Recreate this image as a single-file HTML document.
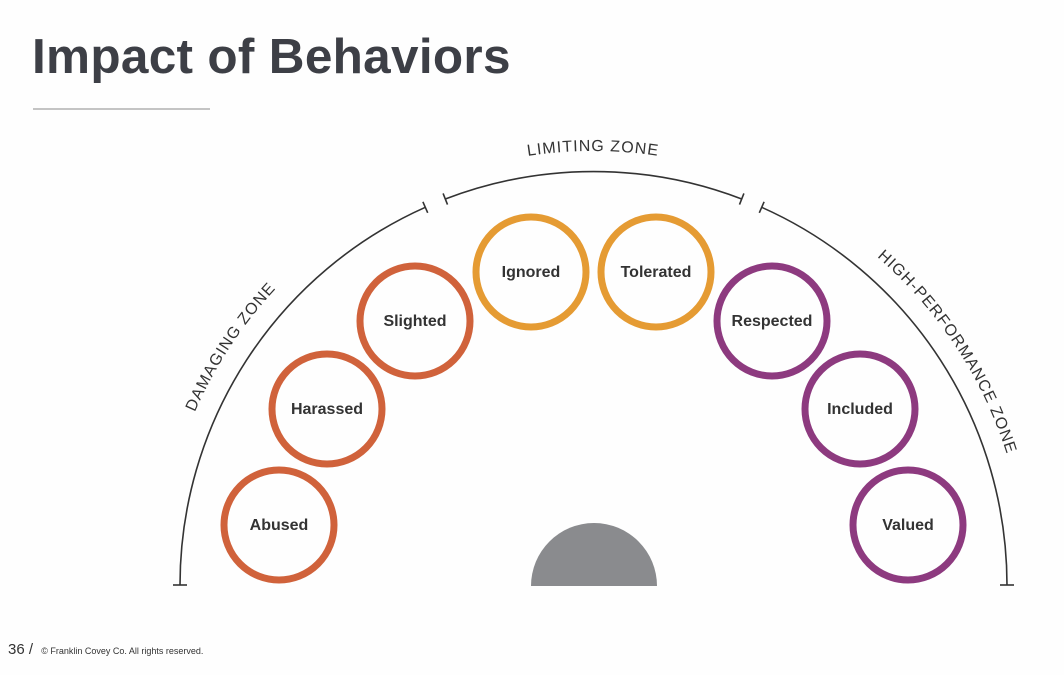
<!DOCTYPE html>
<html><head><meta charset="utf-8"><style>
html,body{margin:0;padding:0;background:#fefefe;}
body{width:1064px;height:675px;overflow:hidden;position:relative;font-family:"Liberation Sans",sans-serif;}
.t{position:absolute;left:32px;top:28px;font-size:49.5px;font-weight:bold;color:#3d3f46;letter-spacing:0.3px;}
.hr{position:absolute;left:33px;top:108px;width:177px;height:2px;background:#c4c4c4;}
.ft{position:absolute;left:8px;top:641px;font-size:15px;color:#333;}
.ft span{font-size:9px;margin-left:4px;}
</style></head><body>
<div class="t">Impact of Behaviors</div>
<div class="hr"></div>
<svg width="1064" height="675" style="position:absolute;left:0;top:0">
<defs><path id="tp" d="M159,585 A434 434 0 0 1 1027,585" fill="none"/></defs>
<g fill="none" stroke="#333" stroke-width="1.6">
<path d="M180,585 A413.5 413.5 0 0 1 425.3,207.3"/>
<path d="M445.3,199 A413.5 413.5 0 0 1 741.7,199"/>
<path d="M761.7,207.3 A413.5 413.5 0 0 1 1007,585"/>
<line x1="173" y1="585" x2="187" y2="585"/>
<line x1="1000" y1="585" x2="1014" y2="585"/>
<line x1="422.9" y1="201.8" x2="427.7" y2="212.8"/>
<line x1="443.1" y1="193.4" x2="447.5" y2="204.6"/>
<line x1="743.9" y1="193.4" x2="739.5" y2="204.6"/>
<line x1="764.1" y1="201.8" x2="759.3" y2="212.8"/>
</g>
<g font-family="Liberation Sans, sans-serif" font-size="16" fill="#333" letter-spacing="1" text-anchor="middle">
<text><textPath href="#tp" startOffset="18.5%">DAMAGING ZONE</textPath></text>
<text><textPath href="#tp" startOffset="50%">LIMITING ZONE</textPath></text>
<text><textPath href="#tp" startOffset="81.5%">HIGH-PERFORMANCE  ZONE</textPath></text>
</g>
<path d="M531,586 A63 63 0 0 1 657,586 Z" fill="#8a8b8e"/>
<g fill="none" stroke-width="7">
<circle cx="279" cy="525" r="55" stroke="#d0623b"/>
<circle cx="327" cy="409" r="55" stroke="#d0623b"/>
<circle cx="415" cy="321" r="55" stroke="#d0623b"/>
<circle cx="531" cy="272" r="55" stroke="#e59b33"/>
<circle cx="656" cy="272" r="55" stroke="#e59b33"/>
<circle cx="772" cy="321" r="55" stroke="#8d3a7f"/>
<circle cx="860" cy="409" r="55" stroke="#8d3a7f"/>
<circle cx="908" cy="525" r="55" stroke="#8d3a7f"/>
</g>
<g font-family="Liberation Sans, sans-serif" font-size="16" font-weight="bold" fill="#333" text-anchor="middle">
<text x="279" y="530">Abused</text>
<text x="327" y="414">Harassed</text>
<text x="415" y="326">Slighted</text>
<text x="531" y="277">Ignored</text>
<text x="656" y="277">Tolerated</text>
<text x="772" y="326">Respected</text>
<text x="860" y="414">Included</text>
<text x="908" y="530">Valued</text>
</g>
</svg>
<div class="ft">36 / <span>© Franklin Covey Co. All rights reserved.</span></div>
</body></html>
